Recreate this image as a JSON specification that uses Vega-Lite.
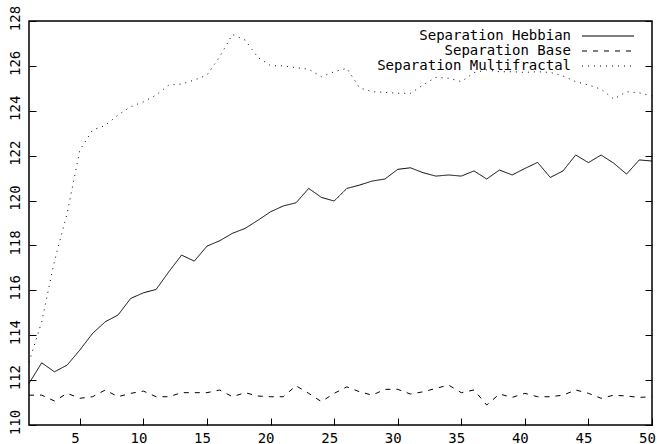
{
  "$schema": "https://vega.github.io/schema/vega-lite/v6.json",
  "width": 623,
  "height": 404,
  "autosize": {"type": "none"},
  "padding": {"left": 29, "top": 21, "right": 5, "bottom": 19},
  "background": "white",
  "config": {
    "view": {"stroke": "black", "strokeWidth": 1.5},
    "font": "DejaVu Sans Mono",
    "axis": {"labelFont": "DejaVu Sans Mono", "labelColor": "black", "tickColor": "black", "domain": false, "grid": false, "title": null}
  },
  "data": {
    "values": [
      {"t": 1, "Separation Hebbian": 111.85, "Separation Base": 111.33, "Separation Multifractal": 112.8},
      {"t": 2, "Separation Hebbian": 112.77, "Separation Base": 111.33, "Separation Multifractal": 114.6},
      {"t": 3, "Separation Hebbian": 112.37, "Separation Base": 111.07, "Separation Multifractal": 117.3},
      {"t": 4, "Separation Hebbian": 112.67, "Separation Base": 111.41, "Separation Multifractal": 119.43},
      {"t": 5, "Separation Hebbian": 113.34, "Separation Base": 111.19, "Separation Multifractal": 122.25},
      {"t": 6, "Separation Hebbian": 114.08, "Separation Base": 111.26, "Separation Multifractal": 123.14},
      {"t": 7, "Separation Hebbian": 114.6, "Separation Base": 111.56, "Separation Multifractal": 123.35},
      {"t": 8, "Separation Hebbian": 114.9, "Separation Base": 111.26, "Separation Multifractal": 123.81},
      {"t": 9, "Separation Hebbian": 115.64, "Separation Base": 111.41, "Separation Multifractal": 124.18},
      {"t": 10, "Separation Hebbian": 115.89, "Separation Base": 111.51, "Separation Multifractal": 124.4},
      {"t": 11, "Separation Hebbian": 116.04, "Separation Base": 111.26, "Separation Multifractal": 124.7},
      {"t": 12, "Separation Hebbian": 116.83, "Separation Base": 111.26, "Separation Multifractal": 125.15},
      {"t": 13, "Separation Hebbian": 117.57, "Separation Base": 111.44, "Separation Multifractal": 125.19},
      {"t": 14, "Separation Hebbian": 117.3, "Separation Base": 111.44, "Separation Multifractal": 125.37},
      {"t": 15, "Separation Hebbian": 117.97, "Separation Base": 111.44, "Separation Multifractal": 125.59},
      {"t": 16, "Separation Hebbian": 118.21, "Separation Base": 111.56, "Separation Multifractal": 126.41},
      {"t": 17, "Separation Hebbian": 118.54, "Separation Base": 111.26, "Separation Multifractal": 127.4},
      {"t": 18, "Separation Hebbian": 118.76, "Separation Base": 111.44, "Separation Multifractal": 127.15},
      {"t": 19, "Separation Hebbian": 119.12, "Separation Base": 111.29, "Separation Multifractal": 126.38},
      {"t": 20, "Separation Hebbian": 119.5, "Separation Base": 111.26, "Separation Multifractal": 126.01},
      {"t": 21, "Separation Hebbian": 119.76, "Separation Base": 111.26, "Separation Multifractal": 126.0},
      {"t": 22, "Separation Hebbian": 119.9, "Separation Base": 111.75, "Separation Multifractal": 125.92},
      {"t": 23, "Separation Hebbian": 120.54, "Separation Base": 111.41, "Separation Multifractal": 125.85},
      {"t": 24, "Separation Hebbian": 120.14, "Separation Base": 111.04, "Separation Multifractal": 125.52},
      {"t": 25, "Separation Hebbian": 119.98, "Separation Base": 111.41, "Separation Multifractal": 125.74},
      {"t": 26, "Separation Hebbian": 120.54, "Separation Base": 111.7, "Separation Multifractal": 125.89},
      {"t": 27, "Separation Hebbian": 120.69, "Separation Base": 111.48, "Separation Multifractal": 125.02},
      {"t": 28, "Separation Hebbian": 120.87, "Separation Base": 111.33, "Separation Multifractal": 124.85},
      {"t": 29, "Separation Hebbian": 120.96, "Separation Base": 111.59, "Separation Multifractal": 124.82},
      {"t": 30, "Separation Hebbian": 121.39, "Separation Base": 111.59, "Separation Multifractal": 124.78},
      {"t": 31, "Separation Hebbian": 121.46, "Separation Base": 111.38, "Separation Multifractal": 124.78},
      {"t": 32, "Separation Hebbian": 121.24, "Separation Base": 111.48, "Separation Multifractal": 125.15},
      {"t": 33, "Separation Hebbian": 121.09, "Separation Base": 111.63, "Separation Multifractal": 125.49},
      {"t": 34, "Separation Hebbian": 121.14, "Separation Base": 111.78, "Separation Multifractal": 125.45},
      {"t": 35, "Separation Hebbian": 121.09, "Separation Base": 111.44, "Separation Multifractal": 125.3},
      {"t": 36, "Separation Hebbian": 121.32, "Separation Base": 111.56, "Separation Multifractal": 125.7},
      {"t": 37, "Separation Hebbian": 120.96, "Separation Base": 110.89, "Separation Multifractal": 125.82},
      {"t": 38, "Separation Hebbian": 121.36, "Separation Base": 111.38, "Separation Multifractal": 125.74},
      {"t": 39, "Separation Hebbian": 121.14, "Separation Base": 111.23, "Separation Multifractal": 125.74},
      {"t": 40, "Separation Hebbian": 121.43, "Separation Base": 111.41, "Separation Multifractal": 125.71},
      {"t": 41, "Separation Hebbian": 121.7, "Separation Base": 111.26, "Separation Multifractal": 125.74},
      {"t": 42, "Separation Hebbian": 121.03, "Separation Base": 111.26, "Separation Multifractal": 125.71},
      {"t": 43, "Separation Hebbian": 121.32, "Separation Base": 111.33, "Separation Multifractal": 125.55},
      {"t": 44, "Separation Hebbian": 122.03, "Separation Base": 111.56, "Separation Multifractal": 125.3},
      {"t": 45, "Separation Hebbian": 121.69, "Separation Base": 111.41, "Separation Multifractal": 125.15},
      {"t": 46, "Separation Hebbian": 122.03, "Separation Base": 111.19, "Separation Multifractal": 124.96},
      {"t": 47, "Separation Hebbian": 121.66, "Separation Base": 111.33, "Separation Multifractal": 124.52},
      {"t": 48, "Separation Hebbian": 121.18, "Separation Base": 111.29, "Separation Multifractal": 124.85},
      {"t": 49, "Separation Hebbian": 121.81, "Separation Base": 111.23, "Separation Multifractal": 124.8},
      {"t": 50, "Separation Hebbian": 121.76, "Separation Base": 111.26, "Separation Multifractal": 124.66}
    ]
  },
  "transform": [
    {"fold": ["Separation Hebbian", "Separation Base", "Separation Multifractal"], "as": ["series", "value"]}
  ],
  "layer": [
    {
      "mark": {"type": "line", "stroke": "black", "strokeWidth": 1},
      "encoding": {
        "x": {
          "field": "t", "type": "quantitative",
          "scale": {"domain": [1, 50], "nice": false, "zero": false},
          "axis": {"orient": "bottom", "values": [5, 10, 15, 20, 25, 30, 35, 40, 45, 50], "tickSize": -7, "labelPadding": 13, "labelOffset": -5, "labelFontSize": 14, "labelBaseline": "top", "labelFlush": false}
        },
        "y": {
          "field": "value", "type": "quantitative",
          "scale": {"domain": [110, 128], "nice": false, "zero": false},
          "axis": {"orient": "left", "values": [110, 112, 114, 116, 118, 120, 122, 124, 126, 128], "tickSize": -7, "labelAngle": 270, "labelAlign": "center", "labelBaseline": "middle", "labelPadding": 21, "labelOffset": -3, "labelFontSize": 14, "labelFlush": false}
        },
        "strokeDash": {
          "field": "series", "type": "nominal",
          "scale": {"domain": ["Separation Hebbian", "Separation Base", "Separation Multifractal"], "range": [[1, 0], [5, 6], [1, 5]]},
          "legend": {
            "orient": "none", "legendX": 572, "legendY": 8, "title": null,
            "symbolType": "M-5,0H5", "symbolSize": 108.16, "symbolStrokeColor": "black", "symbolStrokeWidth": 1, "symbolFillColor": "transparent",
            "labelAlign": "right", "labelOffset": -44, "labelFontSize": 14, "labelFont": "DejaVu Sans Mono", "labelColor": "black", "labelLimit": 0,
            "padding": 0, "rowPadding": 1
          }
        }
      }
    },
    {
      "mark": {"type": "line", "strokeOpacity": 0},
      "encoding": {
        "x": {"field": "t", "type": "quantitative", "axis": null},
        "y": {
          "field": "value", "type": "quantitative",
          "axis": {"orient": "right", "labels": false, "values": [110, 112, 114, 116, 118, 120, 122, 124, 126, 128], "tickSize": -7}
        },
        "detail": {"field": "series"}
      }
    }
  ],
  "resolve": {"axis": {"x": "independent", "y": "independent"}}
}
